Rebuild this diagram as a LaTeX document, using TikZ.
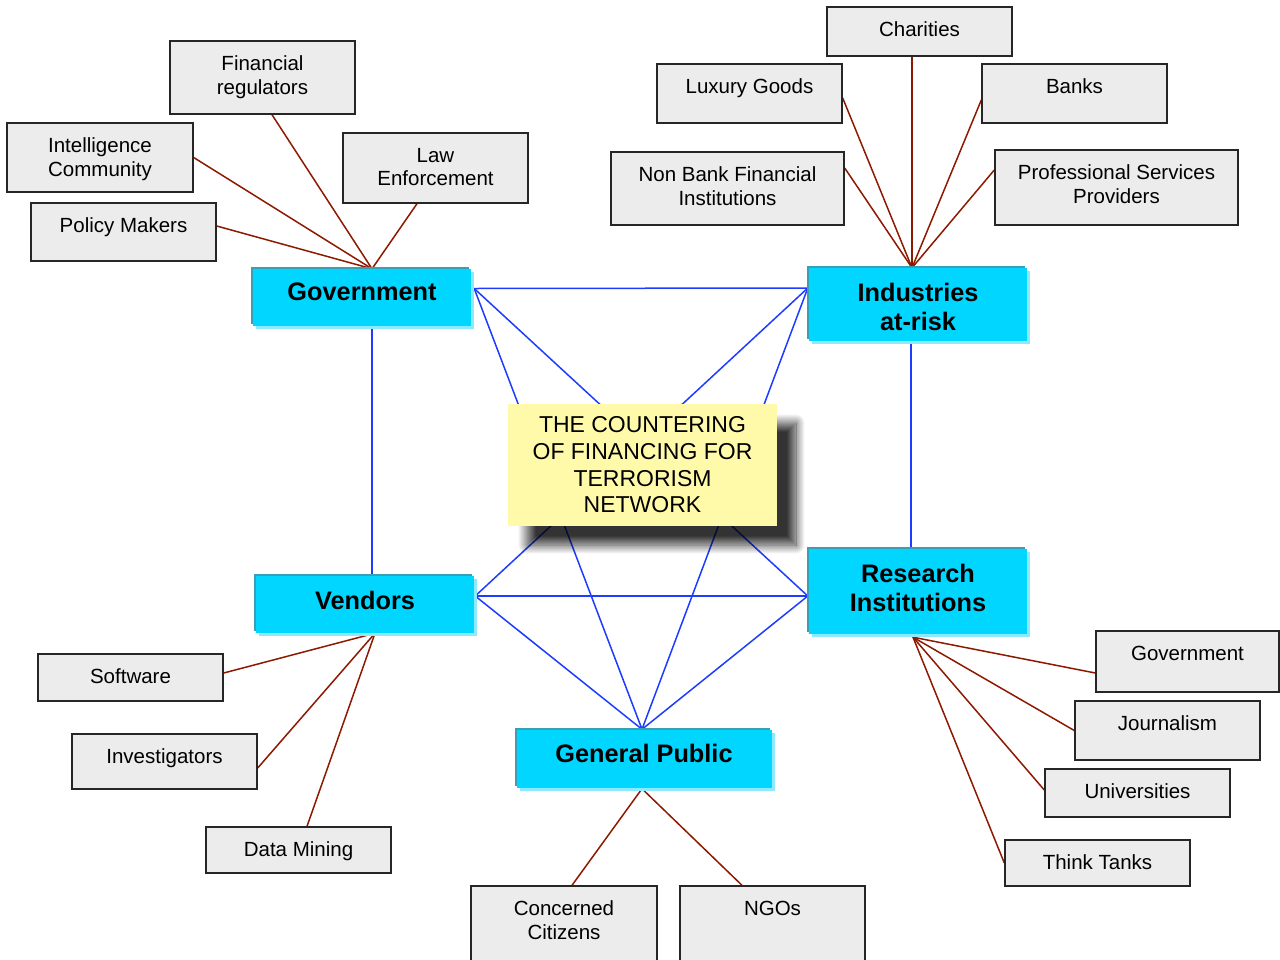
\documentclass[tikz,border=0pt]{standalone}
\usepackage{fontspec}
\setmainfont{Liberation Sans}
\usetikzlibrary{shadows.blur,backgrounds}
\definecolor{gfill}{RGB}{236,236,236}
\definecolor{cmain}{RGB}{0,214,255}
\definecolor{cdark}{RGB}{58,158,180}
\definecolor{clight}{RGB}{140,234,255}
\definecolor{yfill}{RGB}{255,250,170}
\definecolor{bl}{RGB}{30,60,255}
\definecolor{rd}{RGB}{140,25,0}
\begin{document}
\begin{tikzpicture}[x=1pt,y=-1pt,
 gbox/.style={draw=black!85, fill=gfill, line width=1.4pt, inner sep=0},
 gtxt/.style={anchor=north, inner sep=0, align=center, font=\fontsize{20.5}{23.5}\selectfont},
 cbox/.style={fill=cmain, inner sep=0,
   preaction={fill=cdark, transform canvas={shift={(-2pt,2pt)}}},
   preaction={fill=clight, transform canvas={shift={(3pt,-3pt)}}}},
 ctxt/.style={anchor=north, inner sep=0, align=center, font=\fontsize{25.3}{29.5}\selectfont\bfseries},
 cenbox/.style={fill=yfill, inner sep=0, align=center, font=\fontsize{23}{26.7}\selectfont,
   blur shadow={shadow xshift=19pt, shadow yshift=-19pt, shadow blur radius=9pt,
     shadow blur steps=30, shadow opacity=80}},
 blink/.style={draw=bl, line width=1.5pt},
 rlink/.style={draw=rd, line width=1.5pt},
]
\useasboundingbox (0,0) rectangle (1280,959);

% ---- cyan category boxes
\node[cbox, minimum width=218, minimum height=57] (gov) at (362,297.5) {};
\node[cbox, minimum width=218, minimum height=73] (ind) at (918,304.5) {};
\node[cbox, minimum width=218, minimum height=57] (ven) at (365,604.5) {};
\node[cbox, minimum width=218, minimum height=85] (res) at (918,591.5) {};
\node[cbox, minimum width=255, minimum height=58] (gp) at (644,758.5) {};
\node[ctxt] (gov-t) at ([yshift=-14pt]gov.north) {Government};
\node[ctxt] (ind-t) at ([yshift=-15pt]ind.north) {Industries\\at-risk};
\node[ctxt] (ven-t) at ([yshift=-15pt]ven.north) {Vendors};
\node[ctxt] (res-t) at ([yshift=-15pt]res.north) {Research\\Institutions};
\node[ctxt] (gp-t) at ([yshift=-15pt]gp.north) {General Public};

% ---- grey leaf boxes
\node[gbox, minimum width=185, minimum height=73] (fr) at (262.5,77.5) {};
\node[gbox, minimum width=186, minimum height=69] (ic) at (100,157.5) {};
\node[gbox, minimum width=185, minimum height=70] (le) at (435.5,168) {};
\node[gbox, minimum width=185, minimum height=58] (pm) at (123.5,232) {};
\node[gbox, minimum width=185, minimum height=49] (ch) at (919.5,31.5) {};
\node[gbox, minimum width=185, minimum height=59] (lg) at (749.5,93.5) {};
\node[gbox, minimum width=185, minimum height=59] (bk) at (1074.5,93.5) {};
\node[gbox, minimum width=233, minimum height=73] (nb) at (727.5,188.5) {};
\node[gbox, minimum width=243, minimum height=75] (ps) at (1116.5,187.5) {};
\node[gbox, minimum width=185, minimum height=47] (sw) at (130.5,677.5) {};
\node[gbox, minimum width=185, minimum height=55] (iv) at (164.5,761.5) {};
\node[gbox, minimum width=185, minimum height=46] (dm) at (298.5,850) {};
\node[gbox, minimum width=186, minimum height=90] (cc) at (564,931) {};
\node[gbox, minimum width=185, minimum height=90] (ng) at (772.5,931) {};
\node[gbox, minimum width=183, minimum height=61] (rg) at (1187.5,661.5) {};
\node[gbox, minimum width=185, minimum height=59] (jo) at (1167.5,730.5) {};
\node[gbox, minimum width=185, minimum height=48] (un) at (1137.5,793) {};
\node[gbox, minimum width=185, minimum height=46] (tt) at (1097.5,863) {};

\node[gtxt] (fr-t) at ([yshift=-15.5pt]fr.north) {Financial\\regulators};
\node[gtxt] (ic-t) at ([yshift=-15.5pt]ic.north) {Intelligence\\Community};
\node[gtxt] (le-t) at ([yshift=-15.5pt]le.north) {Law\\Enforcement};
\node[gtxt] (pm-t) at ([yshift=-15.5pt]pm.north) {Policy Makers};
\node[gtxt] (ch-t) at ([yshift=-15.5pt]ch.north) {Charities};
\node[gtxt] (lg-t) at ([yshift=-15.5pt]lg.north) {Luxury Goods};
\node[gtxt] (bk-t) at ([yshift=-15.5pt]bk.north) {Banks};
\node[gtxt] (nb-t) at ([yshift=-15.5pt]nb.north) {Non Bank Financial\\Institutions};
\node[gtxt] (ps-t) at ([yshift=-15.5pt]ps.north) {Professional Services\\Providers};
\node[gtxt] (sw-t) at ([yshift=-15.5pt]sw.north) {Software};
\node[gtxt] (iv-t) at ([yshift=-15.5pt]iv.north) {Investigators};
\node[gtxt] (dm-t) at ([yshift=-15.5pt]dm.north) {Data Mining};
\node[gtxt] (cc-t) at ([yshift=-15.5pt]cc.north) {Concerned\\Citizens};
\node[gtxt] (ng-t) at ([yshift=-15.5pt]ng.north) {NGOs};
\node[gtxt] (rg-t) at ([yshift=-15.5pt]rg.north) {Government};
\node[gtxt] (jo-t) at ([yshift=-15.5pt]jo.north) {Journalism};
\node[gtxt] (un-t) at ([yshift=-15.5pt]un.north) {Universities};
\node[gtxt] (tt-t) at ([yshift=-15.5pt]tt.north) {Think Tanks};

% ---- centre box
\node[cenbox, minimum width=269, minimum height=122] (cen) at (642.5,465)
  {THE COUNTERING\\OF FINANCING FOR\\TERRORISM\\NETWORK};

% ---- connection points
\coordinate (govR) at ([xshift=3pt,yshift=9pt]gov.east);
\coordinate (govB) at ([xshift=10pt]gov.south);
\coordinate (govT) at ([xshift=10pt]gov.north);
\coordinate (indL) at ([xshift=-1pt,yshift=16.5pt]ind.west);
\coordinate (indB) at ([xshift=-7pt]ind.south);
\coordinate (indT) at ([xshift=-6pt]ind.north);
\coordinate (venR) at ([xshift=1pt,yshift=8.5pt]ven.east);
\coordinate (venT) at ([xshift=7pt]ven.north);
\coordinate (venB) at ([xshift=10pt]ven.south);
\coordinate (resL) at ([xshift=-1pt,yshift=-4.5pt]res.west);
\coordinate (resT) at ([xshift=-7pt]res.north);
\coordinate (resB) at ([xshift=-5pt,yshift=-3pt]res.south);
\coordinate (gpT) at ([xshift=-2pt]gp.north);
\coordinate (gpB) at ([xshift=-2pt,yshift=-1pt]gp.south);

\begin{scope}[on background layer]
% blue network
\draw[blink] (govR) -- (indL);
\draw[blink] (govR) -- (resL);
\draw[blink] (govR) -- (gpT);
\draw[blink] (govB) -- (venT);
\draw[blink] (indL) -- (venR);
\draw[blink] (indL) -- (gpT);
\draw[blink] (indB) -- (resT);
\draw[blink] (venR) -- (resL);
\draw[blink] (venR) -- (gpT);
\draw[blink] (resL) -- (gpT);
% red links
\draw[rlink] (govT) -- ([xshift=9.5pt]fr.south);
\draw[rlink] (govT) -- (ic.east);
\draw[rlink] (govT) -- ([yshift=6pt]pm.east);
\draw[rlink] (govT) -- ([xshift=-18.5pt]le.south);
\draw[rlink] (indT) -- ([xshift=-7.5pt]ch.south);
\draw[rlink] (indT) -- ([yshift=-4.5pt]lg.east);
\draw[rlink] (indT) -- ([yshift=-6.5pt]bk.west);
\draw[rlink] (indT) -- ([yshift=20.5pt]nb.east);
\draw[rlink] (indT) -- ([yshift=17.5pt]ps.west);
\draw[rlink] (venB) -- ([yshift=4.5pt]sw.east);
\draw[rlink] (venB) -- ([yshift=-6.5pt]iv.east);
\draw[rlink] (venB) -- ([xshift=8.5pt]dm.north);
\draw[rlink] (gpB) -- ([xshift=8pt]cc.north);
\draw[rlink] (gpB) -- ([xshift=-30.5pt]ng.north);
\draw[rlink] (resB) -- ([yshift=-11.5pt]rg.west);
\draw[rlink] (resB) -- (jo.west);
\draw[rlink] (resB) -- ([yshift=3pt]un.west);
\draw[rlink] (resB) -- (tt.west);
\end{scope}
\end{tikzpicture}
\end{document}
